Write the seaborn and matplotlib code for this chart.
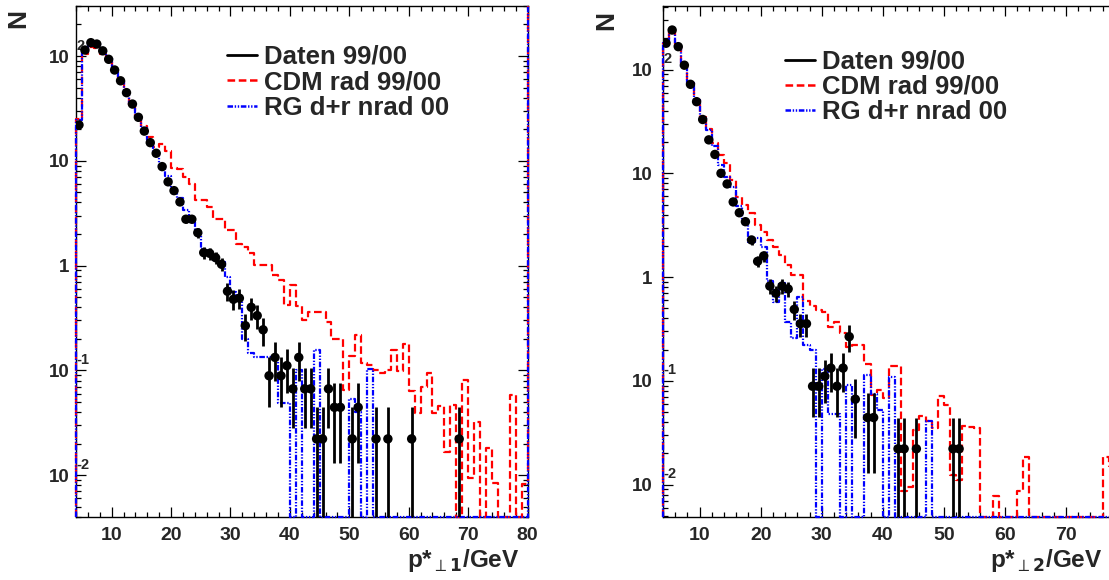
import numpy as np
import pandas as pd
import matplotlib
matplotlib.use("Agg")
import matplotlib.pyplot as plt
import seaborn as sns
from matplotlib.ticker import MultipleLocator, LogLocator, NullFormatter, FixedLocator, FixedFormatter

# ---------------- data (bins of 1 GeV from 4 to 80) ----------------
bin_edges = list(range(4, 81))

# panel 1: p*_perp1
data1 = [22.0, 114, 134, 130, 112, 93, 73.5, 58, 44.7, 34.8, 26, 19.2, 14.9, 11.8, 8.8, 6.3,
         5.19, 4.05, 2.77, 2.77, 2.06, 1.33, 1.31, 1.19, 1.03, 0.569, 0.477, 0.489, 0.267, 0.4,
         0.333, 0.244, 0.0889, 0.133, 0.0889, 0.111, 0.0667, 0.133, 0.0667, 0.0667, 0.0222,
         0.0222, 0.0667, 0.0444, 0.0444, 0, 0.0222, 0.0444, 0, 0, 0.0222, 0, 0.0222, 0, 0, 0,
         0.0222, 0, 0, 0, 0, 0, 0, 0, 0.0222, 0, 0, 0, 0, 0, 0, 0, 0, 0, 0, 0]
cdm1 = [25, 105, 122, 118, 105, 88, 70, 56, 44, 34, 27, 21.5, 17, 13.5, 14.5, 12.5, 8.6, 8.4,
        7.0, 6.0, 4.2, 4.2, 3.65, 2.8, 2.8, 2.2, 2.2, 1.6, 1.52, 1.33, 1.02, 1.02, 1.02, 0.82,
        0.73, 0.42, 0.65, 0.41, 0.3, 0.36, 0.36, 0.36, 0.29, 0.2, 0.2, 0.065, 0.137, 0.22, 0.118,
        0.112, 0.1, 0.094, 0.1, 0.157, 0.098, 0.18, 0.063, 0.039, 0.07, 0.095, 0.039, 0.046,
        0.0168, 0.047, 0, 0.081, 0.0093, 0.0322, 0, 0.018, 0.0085, 0, 0, 0.058, 0, 0.0083]
rg1 = [24.5, 110, 136, 133, 114, 95, 74, 58, 46, 35, 26.5, 20.5, 15.8, 12.2, 9.0, 7.2, 5.4, 4.4,
       3.4, 2.6, 2.05, 1.45, 1.3, 1.12, 1.08, 0.78, 0.56, 0.5, 0.2, 0.146, 0.135, 0.135, 0.135,
       0.135, 0.049, 0.049, 0, 0.1, 0, 0, 0.157, 0, 0, 0, 0, 0, 0.053, 0.04, 0, 0.104,
       0, 0, 0, 0, 0, 0, 0, 0, 0, 0, 0, 0, 0, 0, 0, 0, 0, 0, 0, 0, 0, 0, 0, 0, 0, 0]

# panel 2: p*_perp2
data2 = [179, 240, 166, 110, 72, 49, 33, 21, 15.2, 10, 7.9, 5.3, 4.17, 3.42, 2.28, 1.42, 1.6,
         0.82, 0.70, 0.82, 0.77, 0.489, 0.356, 0.356, 0.0889, 0.0889, 0.111, 0.133, 0.0889,
         0.133, 0.267, 0.0667, 0, 0.0444, 0.0444, 0, 0, 0, 0.0222, 0.0222, 0, 0.0222, 0, 0, 0,
         0, 0, 0.0222, 0.0222, 0, 0, 0, 0, 0, 0, 0, 0, 0, 0, 0, 0, 0, 0, 0, 0, 0, 0, 0, 0, 0,
         0, 0, 0, 0, 0, 0]
cdm2 = [180, 235, 165, 108, 74, 51, 35, 27, 19.4, 15.0, 12.5, 8.6, 5.9, 4.9, 4.15, 3.2, 2.7,
        2.27, 1.96, 1.64, 1.3, 1.04, 1.04, 0.59, 0.53, 0.48, 0.46, 0.33, 0.37, 0.29, 0.21, 0.22,
        0.22, 0.146, 0.073, 0.082, 0.068, 0.14, 0.14, 0.0088, 0.0095, 0.034, 0.046, 0.041, 0.035,
        0.071, 0.058, 0.0123, 0.011, 0.037, 0.036, 0.035, 0, 0, 0.0078, 0, 0, 0, 0.0088, 0.0187,
        0, 0, 0, 0, 0, 0, 0, 0, 0, 0, 0, 0, 0.0187, 0.015, 0, 0]
rg2 = [180, 240, 166, 106, 73.6, 50.8, 34, 26, 18.3, 12, 9.3, 7.4, 4.8, 3.55, 2.2, 2.36, 1.97,
       0.91, 0.58, 0.87, 0.37, 0.26, 0.64, 0.22, 0.2, 0, 0.13, 0.048, 0.048, 0, 0.092, 0, 0,
       0.114, 0.075, 0.053, 0, 0.11, 0, 0, 0, 0, 0, 0.041, 0, 0, 0, 0, 0, 0, 0, 0, 0, 0, 0, 0,
       0, 0, 0, 0, 0, 0, 0, 0, 0, 0, 0, 0, 0, 0, 0, 0, 0, 0, 0, 0]

event_weight = 1 / 45.0   # weight of one data event (values are multiples of it)

legend_labels = ["Daten 99/00", "CDM rad 99/00", "RG d+r nrad 00"]
x_titles = ["p*$_{\\perp\\mathbf{1}}$/GeV", "p*$_{\\perp\\mathbf{2}}$/GeV"]
ytick_vals = [1e-2, 1e-1, 1, 10, 100]
ytick_base = ["10", "10", "1", "10", "10"]
ytick_exp = ["-2", "-1", "", "", "2"]

# ---------------- style ----------------
sns.set_theme(style="ticks")
plt.rcParams["font.family"] = ["Liberation Sans", "DejaVu Sans"]
plt.rcParams["font.weight"] = "normal"
plt.rcParams["mathtext.fontset"] = "dejavusans"
plt.rcParams["mathtext.default"] = "rm"
plt.rcParams["lines.scale_dashes"] = False

W, H = 1109, 580
fig = plt.figure(figsize=(W / 100, H / 100), dpi=100)
fig.patch.set_facecolor("white")

panels = [
    dict(rect=[76, 6, 527.5, 517], ylim=(0.00399, 300), data=data1, cdm=cdm1, rg=rg1,
         title=x_titles[0], xt=0.983, leg=(227, 59), npos=(18, 18), pad=4.5, hide80=False),
    dict(rect=[663, 6, 1127, 517], ylim=(0.00489, 409), data=data2, cdm=cdm2, rg=rg2,
         title=x_titles[1], xt=0.948, leg=(785, 63.5), npos=(606, 20), pad=7.5, hide80=True),
]

RED_DASH = (0, (5.5, 2.6))
BLUE_DASH = (0, (4.0, 1.2, 1.0, 1.2, 1.0, 1.2))

for p in panels:
    x0, y0, x1, y1 = p["rect"]
    ax = fig.add_axes([x0 / W, 1 - y1 / H, (x1 - x0) / W, (y1 - y0) / H])
    ax.set_facecolor("white")
    ax.set_yscale("log")
    lo, hi = p["ylim"]
    ax.set_xlim(bin_edges[0], bin_edges[-1])
    ax.set_ylim(lo, hi)

    edges = np.array(bin_edges, dtype=float)
    centers = edges[:-1] + 0.5

    # histograms as step lines (zero bins drawn along the frame bottom)
    for vals, col, ls in [(p["cdm"], "#ff0000", RED_DASH), (p["rg"], "#0000ff", BLUE_DASH)]:
        v = np.array(vals, dtype=float)
        v = np.where(v > 0, v, lo)
        xs = np.concatenate([[edges[0]], edges[:-1], [edges[-1], edges[-1]]])
        ys = np.concatenate([[lo], v, [v[-1], hi]])
        df = pd.DataFrame({"x": xs, "y": ys})
        sns.lineplot(data=df, x="x", y="y", ax=ax, estimator=None, sort=False,
                     drawstyle="steps-post", color=col, linewidth=1.6, zorder=4)
        ln = ax.lines[-1]
        ln.set_linestyle(ls)
        ln.set_clip_on(False)

    # data points with statistical errors
    d = np.array(p["data"], dtype=float)
    m = d > 0
    err = np.sqrt(d[m] * event_weight)
    lower = np.maximum(d[m] - err, lo)
    ax.vlines(centers[m], lower, d[m] + err, color="black", linewidth=2.0, zorder=5)
    sns.scatterplot(x=centers[m], y=d[m], ax=ax, color="black", s=46, edgecolor="none",
                    zorder=6, legend=False)

    # ticks
    ax.xaxis.set_major_locator(MultipleLocator(10))
    ax.xaxis.set_minor_locator(MultipleLocator(2))
    ax.yaxis.set_major_locator(FixedLocator(ytick_vals))
    ax.yaxis.set_major_formatter(FixedFormatter(ytick_base))
    ax.yaxis.set_minor_locator(LogLocator(base=10, subs=np.arange(2, 10), numticks=20))
    ax.yaxis.set_minor_formatter(NullFormatter())
    ax.tick_params(which="both", direction="in", top=True, right=True, width=0.9, color="black")
    ax.tick_params(which="major", length=7)
    ax.tick_params(which="minor", length=3.5)
    ax.tick_params(axis="x", which="major", labelsize=14, pad=7)
    ax.tick_params(axis="y", which="major", labelsize=13.5, pad=p["pad"])
    fig.canvas.draw()
    for lab in ax.get_xticklabels() + ax.get_yticklabels():
        lab.set_fontweight("bold")
    if p["hide80"]:
        for lab in ax.get_xticklabels():
            if lab.get_position()[0] >= 79.5:
                lab.set_visible(False)
    for val, e in zip(ytick_vals, ytick_exp):
        if e:
            ax.annotate(e, xy=(0, val), xycoords=("axes fraction", "data"),
                        xytext=(0.5, 2.5), textcoords="offset points", ha="left", va="bottom",
                        fontsize=10.5, fontweight="bold", annotation_clip=False)
    for s in ax.spines.values():
        s.set_color("black")
        s.set_linewidth(1.0)
        s.set_zorder(3)

    # axis titles
    ax.set_xlabel(p["title"], fontsize=17.5, fontweight="bold", ha="right", va="baseline")
    ax.xaxis.set_label_coords(p["xt"], -(566.5 - y1) / (y1 - y0))
    ax.set_ylabel("N", fontsize=19, fontweight="bold", rotation=90, va="center", ha="center")
    ax.yaxis.set_label_coords(-(x0 - p["npos"][0]) / (x1 - x0), 1 + (y0 - p["npos"][1]) / (y1 - y0))

    # legend
    lx, ly = p["leg"]
    handles = [
        plt.Line2D([], [], color="black", linewidth=2.0),
        plt.Line2D([], [], color="#ff0000", linewidth=1.8, linestyle=RED_DASH),
        plt.Line2D([], [], color="#0000ff", linewidth=1.8, linestyle=BLUE_DASH),
    ]
    leg = ax.legend(handles, legend_labels, loc="upper left",
                    bbox_to_anchor=(lx / W, 1 - (ly - 14) / H), bbox_transform=fig.transFigure,
                    frameon=False, fontsize=18.5, handlelength=1.15, handletextpad=0.28,
                    labelspacing=0.05, borderaxespad=0, borderpad=0,
                    prop={"size": 18.5, "weight": "bold"})

fig.savefig("out.png", dpi=100, facecolor="white")
